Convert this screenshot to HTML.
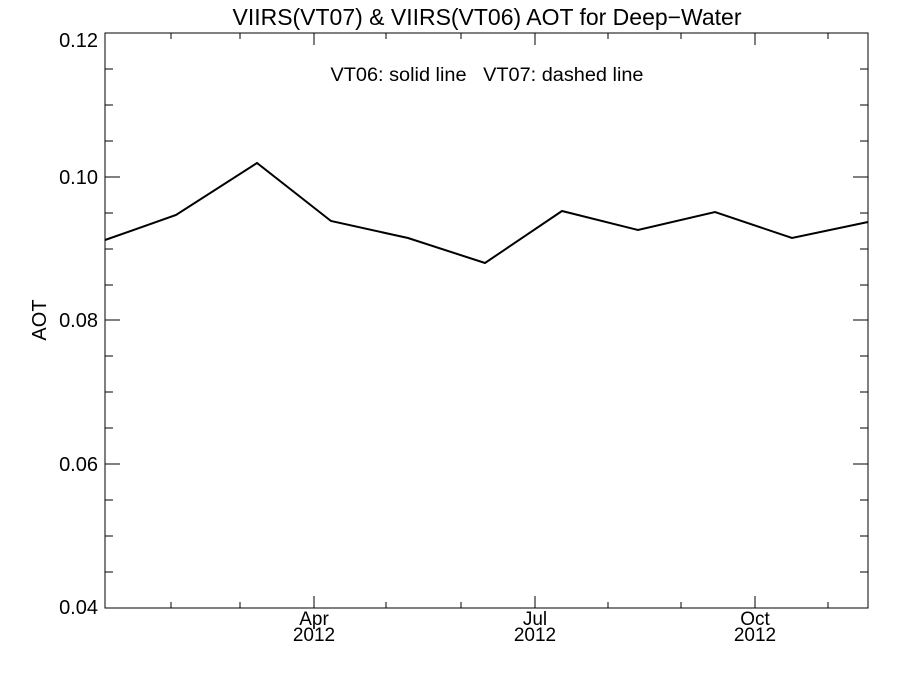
<!DOCTYPE html>
<html><head><style>body{margin:0;background:#fff}</style></head><body>
<svg width="900" height="675" xmlns="http://www.w3.org/2000/svg" font-family="Liberation Sans, sans-serif" fill="#000">
<rect width="900" height="675" fill="#fff"/>
<text x="487" y="25" font-size="23" text-anchor="middle" textLength="509" lengthAdjust="spacingAndGlyphs">VIIRS(VT07) &amp; VIIRS(VT06)  AOT for Deep−Water</text>
<text x="487" y="81" font-size="19" text-anchor="middle" xml:space="preserve" textLength="313" lengthAdjust="spacingAndGlyphs">VT06: solid line   VT07: dashed line</text>
<g stroke="#000" stroke-width="1" fill="none">
<rect x="105" y="33" width="763" height="575"/>
<path d="M105 33h15M105 177h15M105 320h15M105 464h15M105 608h15
M868 33h-15M868 177h-15M868 320h-15M868 464h-15M868 608h-15
M105 69h8M105 105h8M105 141h8M105 213h8M105 249h8M105 285h8M105 356h8M105 392h8M105 428h8M105 500h8M105 536h8M105 572h8
M868 69h-8M868 105h-8M868 141h-8M868 213h-8M868 249h-8M868 285h-8M868 356h-8M868 392h-8M868 428h-8M868 500h-8M868 536h-8M868 572h-8
M171 608v-6M240 608v-6M314 608v-12M386 608v-6M461 608v-6M535 608v-12M608 608v-6M681 608v-6M755 608v-12M828 608v-6
M171 33v6M240 33v6M314 33v12M386 33v6M461 33v6M535 33v12M608 33v6M681 33v6M755 33v12M828 33v6"/>
<polyline stroke-width="2" points="105,240 176,215 257,163 331,221 408,238 485,263 562,211 638,230 715,212 792,238 868,222"/>
</g>
<g font-size="20" text-anchor="end">
<text x="98" y="47">0.12</text><text x="98" y="184">0.10</text><text x="98" y="327">0.08</text><text x="98" y="471">0.06</text><text x="98" y="614">0.04</text>
</g>
<g font-size="19" text-anchor="middle">
<text x="314" y="625">Apr</text><text x="314" y="641">2012</text>
<text x="535" y="625">Jul</text><text x="535" y="641">2012</text>
<text x="755" y="625">Oct</text><text x="755" y="641">2012</text>
</g>
<text transform="translate(46,320) rotate(-90)" font-size="20" text-anchor="middle">AOT</text>
</svg>
</body></html>
